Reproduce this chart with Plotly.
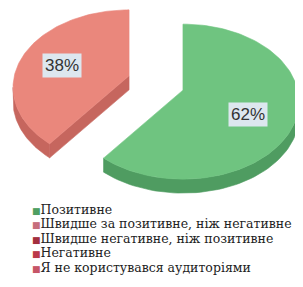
import numpy as np
import plotly.graph_objects as go

categories = [
    "Позитивне",
    "Швидше за позитивне, ніж негативне",
    "Швидше негативне, ніж позитивне",
    "Негативне",
    "Я не користувався аудиторіями",
]
values = [62, 38, 0, 0, 0]
top_colors = ["#6fc480", "#ea877c", "#a83040", "#bd3a4a", "#c85a66"]
side_colors = ["#4f9c61", "#c6665e", "#8a2030", "#9a2a3a", "#a84050"]
legend_colors = ["#4f9f62", "#c66e7c", "#a32f3e", "#bb3a4a", "#c65567"]

W, H = 303, 287
PAGE = 8  # default body margin of the page
# 3D pie geometry (pixel units of the window)
cx, cy = 156, 83          # unpulled apex
R, r = 116, 77.5          # rim semi-axes
dz = 11.5                 # perspective offset of rim centre below apex
depth = 14                # thickness
pull_px = 29
k = r / R

total = float(sum(values))
slices = []
start = 0.0
for i, v in enumerate(values):
    if v <= 0:
        continue
    span = v / total * 360.0
    a0, a1 = start, start + span
    mid = np.radians((a0 + a1) / 2)
    ax = cx + pull_px * np.sin(mid)
    ay = cy - pull_px * np.cos(mid) * k
    slices.append((i, a0, a1, ax, ay, mid, v))
    start = a1


def rim(ax, ay, th_deg, down=0.0):
    th = np.radians(th_deg)
    return ax + R * np.sin(th), ay + dz - r * np.cos(th) + down


def poly(fig, xs, ys, color, name):
    xs = list(xs) + [xs[0]]
    ys = list(ys) + [ys[0]]
    fig.add_trace(go.Scatter(
        x=xs, y=ys, mode="lines", fill="toself", fillcolor=color,
        line=dict(width=0.6, color=color), hoverinfo="text", text=name,
        showlegend=False,
    ))


fig = go.Figure()
annotations = []
label_frac = [0.6, 0.62, 0.6, 0.6, 0.6]
for (i, a0, a1, ax, ay, mid, v) in sorted(slices, key=lambda s: s[4]):
    name = categories[i]
    # cut faces
    for a, nrm in ((a0, a0 - 90), (a1, a1 + 90)):
        if np.cos(np.radians(nrm)) < -1e-6:
            x1, y1 = rim(ax, ay, a)
            x2, y2 = rim(ax, ay, a, depth)
            poly(fig, [ax, x1, x2, ax], [ay, y1, y2, ay + depth], side_colors[i], name)
    # front rim
    lo, hi = max(a0, 90.0), min(a1, 270.0)
    if hi > lo:
        th = np.linspace(lo, hi, 60)
        xt, yt = rim(ax, ay, th)
        xb, yb = rim(ax, ay, th[::-1], depth)
        poly(fig, np.concatenate([xt, xb]), np.concatenate([yt, yb]), side_colors[i], name)
    # top face
    th = np.linspace(a0, a1, 120)
    xt, yt = rim(ax, ay, th)
    poly(fig, np.concatenate([[ax], xt]), np.concatenate([[ay], yt]), top_colors[i], name)
    # percentage label
    f = label_frac[i]
    lx = ax + f * R * np.sin(mid)
    ly = ay + f * (dz - r * np.cos(mid))
    annotations.append(dict(
        x=lx, y=ly, xref="x", yref="y", text=f"{v / total * 100:.0f}%",
        showarrow=False, bgcolor="#dde7ef", borderpad=2,
        font=dict(family="Liberation Sans, Arial", size=17, color="#333333"),
    ))

top_px = 209
step_px = 14.5
for i, (cat, col) in enumerate(zip(categories, legend_colors)):
    annotations.append(dict(
        text=f"<span style='color:{col};font-size:9px'>■</span>{cat}",
        x=30, y=top_px + i * step_px, xref="x", yref="y",
        xanchor="left", yanchor="middle", showarrow=False, align="left",
        font=dict(family="DejaVu Serif", size=12.5, color="#222222"),
    ))

fig.update_layout(
    width=W - PAGE, height=H - PAGE,
    margin=dict(l=0, r=0, t=0, b=0),
    paper_bgcolor="white", plot_bgcolor="white",
    xaxis=dict(range=[PAGE, W], visible=False, fixedrange=True),
    yaxis=dict(range=[H, PAGE], visible=False, fixedrange=True),
    annotations=annotations,
    showlegend=False,
)

fig.write_html("out.html")
